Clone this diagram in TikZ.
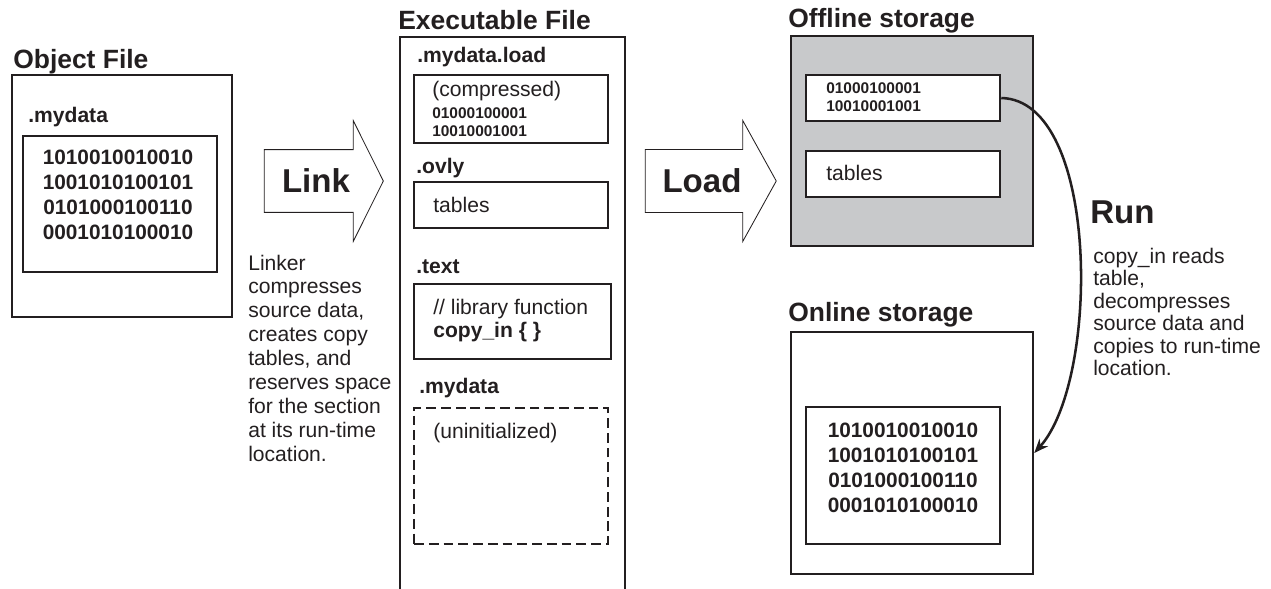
\documentclass[tikz,border=0pt]{standalone}
\usepackage{fontspec}
\setmainfont{Liberation Sans}
\usetikzlibrary{shapes.arrows,fit,arrows.meta}
\definecolor{ink}{HTML}{231F20}
\definecolor{shade}{HTML}{C8C9CB}

\begin{document}
\begin{tikzpicture}[
    x=0.025cm, y=-0.025cm,
    every node/.style={text=ink, inner sep=0pt},
    box/.style={draw=ink, line width=1.8pt, inner sep=0pt},
    dashbox/.style={draw=ink, line width=1.5pt, dash pattern=on 7pt off 3.5pt, inner sep=0pt},
    title/.style={font=\fontsize{18.8}{22}\selectfont\bfseries, anchor=base west},
    sect/.style={font=\fontsize{15}{17}\selectfont\bfseries, anchor=base west},
    txt/.style={font=\fontsize{15}{17}\selectfont, anchor=base west},
    note/.style={font=\fontsize{15}{17}\selectfont, align=left, anchor=north west},
    bits/.style={font=\fontsize{14.8}{17.7}\selectfont\bfseries, align=center, anchor=north},
    smallbits/.style={font=\fontsize{11}{13}\selectfont\bfseries, align=left, anchor=north west},
    bigarrow/.style={single arrow, draw=ink, line width=0.6pt, minimum width=3cm,
        inner xsep=0pt, inner ysep=13.5pt,
        single arrow head extend=0.725cm, font=\fontsize{23.5}{26}\selectfont\bfseries},
    runarrow/.style={draw=ink, line width=1.8pt, -{Stealth[length=10pt,width=8pt]}}
]
\useasboundingbox (0,0) rectangle (1271,588);

% Object file
\node[title] (objtitle) at (13,68) {Object File};
\node[box, fit={(12,75) (232,317)}] (obj) {};
\node[sect] (objsect) at (28,122) {.mydata};
\node[box, fit={(23,136) (217,272)}] (objdata) {};
\node[bits] (objbits) at (118,150) {1010010010010\\1001010100101\\0101000100110\\0001010100010};

% Link
\node[bigarrow, minimum height=2.975cm, single arrow tip angle=127] (link) at (316,181) {Link};
\node[note] (linknote) at (248,254.5) {Linker\\compresses\\source data,\\creates copy\\tables, and\\reserves space\\for the section\\at its run-time\\location.};

% Executable file
\node[title] (exetitle) at (398,29) {Executable File};
\begin{scope}
  \clip (0,0) rectangle (1271,588);
  \node[box, fit={(400,37) (625,620)}] (exe) {};
\end{scope}
\node[sect] (loadsect) at (417,62) {.mydata.load};
\node[box, fit={(414,75) (608,143)}] (comp) {};
\node[txt] (comptxt) at (432,96) {(compressed)};
\node[smallbits] (compbits) at (432,107) {01000100001\\10010001001};
\node[sect] (ovlysect) at (416,173) {.ovly};
\node[box, fit={(414,182) (608,228)}] (tab) {};
\node[txt] (tabtxt) at (433,212) {tables};
\node[sect] (textsect) at (416,273) {.text};
\node[box, fit={(414,284) (611,359)}] (lib) {};
\node[txt] (libtxt) at (433,314) {// library function};
\node[sect] (copytxt) at (433,337) {copy\_in \{ \}};
\node[sect] (datasect) at (419,393) {.mydata};
\node[dashbox, fit={(414,408) (608,544)}] (uninit) {};
\node[txt] (uninittxt) at (433,438) {(uninitialized)};

% Load
\node[bigarrow, minimum height=3.275cm, single arrow tip angle=122] (load) at (702,181) {Load};

% Offline storage
\node[title] (offtitle) at (788,27) {Offline storage};
\node[box, fill=shade, fit={(791,36) (1033,246)}] (off) {};
\node[box, fill=white, fit={(806,75) (1000,121)}] (offbits) {};
\node[smallbits] (offbitstxt) at (826,82) {01000100001\\10010001001};
\node[box, fill=white, fit={(806,151) (1000,197)}] (offtab) {};
\node[txt] (offtabtxt) at (826,180) {tables};

% Online storage
\node[title] (ontitle) at (788,321) {Online storage};
\node[box, fit={(791,332) (1033,574)}] (onl) {};
\node[box, fit={(806,407) (1000,544)}] (onldata) {};
\node[bits] (onlbits) at (903,423) {1010010010010\\1001010100101\\0101000100110\\0001010100010};

% Run
\node[anchor=base west, font=\fontsize{23.5}{26}\selectfont\bfseries] (run) at (1090,223) {Run};
\node[note, font=\fontsize{15}{16}\selectfont] (runnote) at (1093,247.5) {copy\_in reads\\table,\\decompresses\\source data and\\copies to run-time\\location.};
\draw[runarrow] (offbits.east) .. controls (1100,100) and (1100,380) .. (onl.east);

\end{tikzpicture}
\end{document}
